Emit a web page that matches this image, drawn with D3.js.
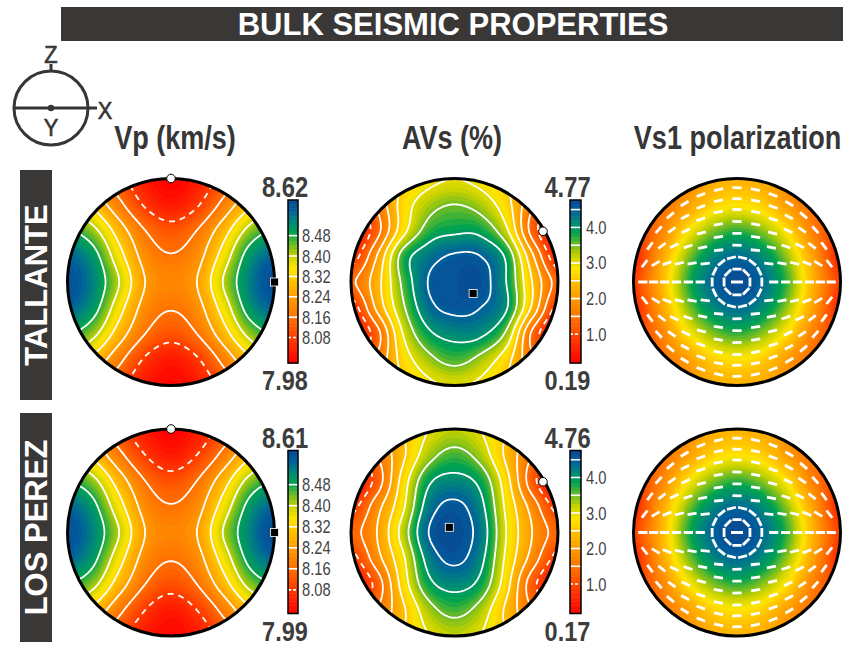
<!DOCTYPE html>
<html><head><meta charset="utf-8">
<script src="https://cdn.jsdelivr.net/npm/d3@7"></script>
<style>body{margin:0;background:#fff}svg{display:block}</style>
</head><body><svg id="c" width="849" height="647"></svg>
<script>
// ---------------- DATA ----------------
// grid nodes in normalised pole-figure coordinates (x right = X, y up = Z)
const gridAxis = [-1, -0.75, -0.5, -0.25, 0, 0.25, 0.5, 0.75, 1];
// rows: y = +1 (top) ... y = -1 (bottom); columns: x = -1 ... +1
const vpTallante = [
  [8.30, 8.21, 8.11, 8.02, 7.98, 8.02, 8.11, 8.21, 8.30],
  [8.39, 8.30, 8.18, 8.07, 8.02, 8.07, 8.18, 8.30, 8.39],
  [8.49, 8.42, 8.28, 8.16, 8.11, 8.16, 8.28, 8.42, 8.49],
  [8.58, 8.51, 8.35, 8.21, 8.165, 8.21, 8.35, 8.51, 8.58],
  [8.61, 8.54, 8.40, 8.24, 8.20, 8.24, 8.40, 8.54, 8.62],
  [8.58, 8.51, 8.35, 8.21, 8.165, 8.21, 8.35, 8.51, 8.58],
  [8.49, 8.42, 8.28, 8.16, 8.11, 8.16, 8.28, 8.42, 8.49],
  [8.39, 8.30, 8.18, 8.07, 8.02, 8.07, 8.18, 8.30, 8.39],
  [8.30, 8.21, 8.11, 8.02, 7.99, 8.02, 8.11, 8.21, 8.30]
];
const vpLosPerez = [
  [8.30, 8.21, 8.11, 8.03, 7.99, 8.03, 8.11, 8.21, 8.30],
  [8.39, 8.30, 8.18, 8.08, 8.03, 8.08, 8.18, 8.30, 8.39],
  [8.48, 8.42, 8.28, 8.16, 8.11, 8.16, 8.28, 8.42, 8.48],
  [8.57, 8.50, 8.35, 8.21, 8.165, 8.21, 8.35, 8.50, 8.57],
  [8.60, 8.53, 8.40, 8.24, 8.20, 8.24, 8.40, 8.53, 8.61],
  [8.57, 8.50, 8.35, 8.21, 8.165, 8.21, 8.35, 8.50, 8.57],
  [8.48, 8.42, 8.28, 8.16, 8.11, 8.16, 8.28, 8.42, 8.48],
  [8.39, 8.30, 8.18, 8.08, 8.03, 8.08, 8.18, 8.30, 8.39],
  [8.30, 8.21, 8.11, 8.03, 8.00, 8.03, 8.11, 8.21, 8.30]
];
const avsTallante = [
  [1.2, 2.0, 2.5, 2.85, 3.0, 2.85, 2.5, 2.0, 1.2],
  [1.0, 1.6, 2.7, 3.3, 3.5, 3.3, 2.7, 1.6, 1.0],
  [0.3, 1.3, 2.8, 3.7, 3.9, 3.85, 3.1, 1.3, 0.3],
  [0.7, 2.0, 3.7, 4.3, 4.55, 4.5, 3.9, 2.1, 0.6],
  [1.4, 2.3, 3.6, 4.52, 4.65, 4.68, 4.0, 2.5, 1.3],
  [0.7, 2.1, 3.4, 4.35, 4.6, 4.5, 4.05, 2.4, 0.8],
  [0.3, 1.3, 3.0, 3.9, 4.15, 4.1, 3.4, 1.4, 0.3],
  [1.0, 1.6, 2.7, 3.35, 3.65, 3.35, 2.7, 1.6, 1.0],
  [1.2, 2.0, 2.5, 2.9, 3.05, 2.9, 2.5, 2.0, 1.2]
];
const avsLosPerez = [
  [1.2, 1.8, 2.5, 3.0, 3.2, 3.0, 2.5, 1.8, 1.2],
  [0.9, 1.5, 2.4, 3.3, 3.65, 3.3, 2.4, 1.5, 0.9],
  [0.3, 1.2, 2.7, 3.9, 4.15, 3.85, 2.7, 1.2, 0.3],
  [0.8, 1.8, 2.9, 4.25, 4.6, 4.15, 2.9, 1.8, 0.8],
  [1.3, 2.0, 3.2, 4.5, 4.72, 4.3, 3.0, 2.0, 1.3],
  [0.8, 1.8, 2.9, 4.2, 4.6, 4.15, 2.9, 1.8, 0.8],
  [0.3, 1.2, 2.7, 3.85, 4.15, 3.85, 2.7, 1.2, 0.3],
  [0.9, 1.5, 2.4, 3.3, 3.65, 3.3, 2.4, 1.5, 0.9],
  [1.2, 1.8, 2.5, 3.0, 3.2, 3.0, 2.5, 1.8, 1.2]
];
const vs1Tallante = [
  [1.1, 1.4, 1.8, 2.2, 2.3, 2.2, 1.8, 1.4, 1.1],
  [0.9, 1.4, 2.0, 2.6, 2.8, 2.6, 2.0, 1.4, 0.9],
  [0.8, 1.6, 2.7, 3.4, 3.7, 3.4, 2.7, 1.6, 0.8],
  [0.6, 2.0, 3.3, 4.1, 4.4, 4.1, 3.3, 2.0, 0.6],
  [0.9, 2.2, 3.6, 4.4, 4.75, 4.4, 3.6, 2.2, 0.9],
  [0.6, 2.0, 3.3, 4.1, 4.4, 4.1, 3.3, 2.0, 0.6],
  [0.8, 1.6, 2.7, 3.4, 3.7, 3.4, 2.7, 1.6, 0.8],
  [0.9, 1.4, 2.0, 2.6, 2.8, 2.6, 2.0, 1.4, 0.9],
  [1.1, 1.4, 1.8, 2.2, 2.3, 2.2, 1.8, 1.4, 1.1]
];
const vs1LosPerez = [
  [1.1, 1.4, 1.8, 2.2, 2.3, 2.2, 1.8, 1.4, 1.1],
  [0.9, 1.4, 2.0, 2.6, 2.8, 2.6, 2.0, 1.4, 0.9],
  [0.8, 1.6, 2.7, 3.4, 3.7, 3.4, 2.7, 1.6, 0.8],
  [0.6, 2.0, 3.3, 4.1, 4.4, 4.1, 3.3, 2.0, 0.6],
  [0.9, 2.2, 3.6, 4.4, 4.74, 4.4, 3.6, 2.2, 0.9],
  [0.6, 2.0, 3.3, 4.1, 4.4, 4.1, 3.3, 2.0, 0.6],
  [0.8, 1.6, 2.7, 3.4, 3.7, 3.4, 2.7, 1.6, 0.8],
  [0.9, 1.4, 2.0, 2.6, 2.8, 2.6, 2.0, 1.4, 0.9],
  [1.1, 1.4, 1.8, 2.2, 2.3, 2.2, 1.8, 1.4, 1.1]
];
const vpRangeTallante = [7.98, 8.62];
const vpRangeLosPerez = [7.99, 8.61];
const avsRangeTallante = [0.19, 4.77];
const avsRangeLosPerez = [0.17, 4.76];
const vpLevels = [8.08, 8.16, 8.24, 8.32, 8.40, 8.48];
const vpTickLabels = ["8.48", "8.40", "8.32", "8.24", "8.16", "8.08"];
const avsLevels = [1.0, 1.5, 2.0, 2.5, 3.0, 3.5, 4.0, 4.5];
const avsTickLabels = ["4.0", "3.0", "2.0", "1.0"];
// extreme directions (normalised coords): [max, min]
const vpExtTallante = [[1, 0], [0, 1]];
const vpExtLosPerez = [[1, 0], [0, 1]];
const avsExtTallante = [[0.18, -0.11], [0.855, 0.49]];
const avsExtLosPerez = [[-0.05, 0.05], [0.855, 0.49]];
// Vs1 polarisation: ticks on rings (normalised radius); outer ticks follow great circles through X
const polRingRadii = [0.125, 0.24, 0.355, 0.47, 0.585, 0.70, 0.805, 0.91];
const polSwirlRings = 2;         // innermost rings whose ticks circle the AVs maximum
const polPole = [90, 0];         // X direction (lon, lat) where trajectories converge
const rowNames = ["TALLANTE", "LOS PEREZ"];
const columnTitles = ["Vp (km/s)", "AVs (%)", "Vs1 polarization"];
const chartTitle = "BULK SEISMIC PROPERTIES";

// ---------------- STYLE / LAYOUT ----------------
const FONT = "'Liberation Sans', Arial, Helvetica, sans-serif";
const INK = "#363636";
const BAR = "#3a3737";
const R = 103.5;
const colX = [171, 454.5, 737];
const rowY = [282, 532.5];
const stopsT = [0, 0.12, 0.25, 0.38, 0.5, 0.58, 0.66, 0.74, 0.8, 0.87, 0.94, 1];
const stopsC = ["#ff0000", "#ff2e00", "#ff6600", "#ff9400", "#ffc000", "#ffe600", "#c6d200", "#5fb92c", "#00a450", "#00887c", "#005f9c", "#0a4a94"];
function makeColor(lo, hi) {
  return d3.scaleLinear().domain(stopsT.map(t => lo + t * (hi - lo))).range(stopsC)
    .interpolate(d3.interpolateRgb).clamp(true);
}

const svg = d3.select("#c");
const defs = svg.append("defs");

function txt(g, x, y, s, size, o = {}) {
  return g.append("text")
    .attr("transform", `translate(${x},${y})${o.rot ? " rotate(" + o.rot + ")" : ""} scale(${o.sx || 1},1)`)
    .attr("text-anchor", o.anchor || "middle")
    .attr("font-family", FONT).attr("font-size", size)
    .attr("font-weight", o.weight || "normal")
    .attr("fill", o.fill || INK).text(s);
}

// ---------- field rendering ----------
const N = 161, E = 1.03;
function cr(p0, p1, p2, p3, t) {
  return 0.5 * (2 * p1 + (-p0 + p2) * t + (2 * p0 - 5 * p1 + 4 * p2 - p3) * t * t + (-p0 + 3 * p1 - 3 * p2 + p3) * t * t * t);
}
function sample(grid, x, y) {
  const n = gridAxis.length, step = gridAxis[1] - gridAxis[0];
  let fx = (x - gridAxis[0]) / step, fy = (gridAxis[n - 1] - y) / step;
  fx = Math.max(0, Math.min(n - 1, fx)); fy = Math.max(0, Math.min(n - 1, fy));
  const ix = Math.min(n - 2, Math.floor(fx)), iy = Math.min(n - 2, Math.floor(fy));
  const tx = fx - ix, ty = fy - iy;
  const g = (r, c) => grid[Math.max(0, Math.min(n - 1, r))][Math.max(0, Math.min(n - 1, c))];
  const rows = [];
  for (let k = -1; k <= 2; k++) rows.push(cr(g(iy + k, ix - 1), g(iy + k, ix), g(iy + k, ix + 1), g(iy + k, ix + 2), tx));
  return cr(rows[0], rows[1], rows[2], rows[3], ty);
}
function fieldValues(grid) {
  const v = new Float64Array(N * N), s = 2 * E / (N - 1);
  for (let j = 0; j < N; j++) for (let i = 0; i < N; i++) v[j * N + i] = sample(grid, -E + i * s, E - j * s);
  return v;
}
function gridPath(cx, cy) {
  const s = 2 * E / (N - 1);
  const sx = d3.scaleLinear().domain([-1, 1]).range([cx - R, cx + R]);
  const sy = d3.scaleLinear().domain([-1, 1]).range([cy + R, cy - R]);
  return d3.geoPath(d3.geoTransform({
    point(x, y) { this.stream.point(sx(-E + (x - 0.5) * s), sy(E - (y - 0.5) * s)); }
  }));
}
let clipId = 0;
function panelGroup(cx, cy) {
  const id = "clip" + (clipId++);
  defs.append("clipPath").attr("id", id).append("circle").attr("cx", cx).attr("cy", cy).attr("r", R);
  return svg.append("g").attr("clip-path", `url(#${id})`);
}
function drawField(cx, cy, grid, range, levels, dashedLevel) {
  const g = panelGroup(cx, cy);
  const vals = fieldValues(grid);
  const color = makeColor(range[0], range[1]);
  const K = 48, lo = range[0], hi = range[1];
  const th = d3.range(K).map(k => lo + (hi - lo) * k / K);
  th[0] = lo - 10;
  const path = gridPath(cx, cy);
  d3.contours().size([N, N]).thresholds(th)(vals).forEach((c, k) => {
    const col = color(lo + (hi - lo) * (k + 0.5) / K);
    g.append("path").attr("d", path(c)).attr("fill", col).attr("stroke", col).attr("stroke-width", 0.4);
  });
  if (levels) {
    d3.contours().size([N, N]).thresholds(levels)(vals).forEach(c => {
      g.append("path").attr("d", path(c)).attr("fill", "none").attr("stroke", "#fff")
        .attr("stroke-width", 1.8)
        .attr("stroke-dasharray", Math.abs(c.value - dashedLevel) < 1e-6 ? "6,5" : null);
    });
  }
  return g;
}
function border(cx, cy) {
  svg.append("circle").attr("cx", cx).attr("cy", cy).attr("r", R)
    .attr("fill", "none").attr("stroke", "#000").attr("stroke-width", 3);
}
function markers(cx, cy, ext) {
  const sx = d3.scaleLinear().domain([-1, 1]).range([cx - R, cx + R]);
  const sy = d3.scaleLinear().domain([-1, 1]).range([cy + R, cy - R]);
  const [mx, mn] = ext;
  svg.append("rect").attr("x", sx(mx[0]) - 4).attr("y", sy(mx[1]) - 4).attr("width", 8).attr("height", 8)
    .attr("fill", "#000").attr("stroke", "#fff").attr("stroke-width", 0.8);
  svg.append("circle").attr("cx", sx(mn[0])).attr("cy", sy(mn[1])).attr("r", 4.3)
    .attr("fill", "#fff").attr("stroke", "#000").attr("stroke-width", 1);
}
function colorbar(x, w, cy, range, levels, dashedLevel, tickLabels, labelX) {
  const top = cy - 82, bot = cy + 81;
  const ys = d3.scaleLinear().domain(range).range([bot, top]);
  const color = makeColor(range[0], range[1]);
  const K = 40;
  d3.range(K).forEach(k => {
    const a = range[0] + (range[1] - range[0]) * k / K, b = range[0] + (range[1] - range[0]) * (k + 1) / K;
    svg.append("rect").attr("x", x).attr("y", ys(b)).attr("width", w).attr("height", ys(a) - ys(b) + 0.5)
      .attr("fill", color((a + b) / 2));
  });
  levels.forEach(l => {
    svg.append("line").attr("x1", x).attr("x2", x + w).attr("y1", ys(l)).attr("y2", ys(l))
      .attr("stroke", "#fff").attr("stroke-width", 1.6)
      .attr("stroke-dasharray", Math.abs(l - dashedLevel) < 1e-6 ? "3,2" : null);
  });
  svg.append("rect").attr("x", x).attr("y", top).attr("width", w).attr("height", bot - top)
    .attr("fill", "none").attr("stroke", "#000").attr("stroke-width", 1.5);
  tickLabels.forEach(t => txt(svg, labelX, ys(+t) + 6.5, t, 18, { anchor: "start", sx: 0.82, fill: "#444" }));
  const cxl = x + w / 2 - 8;
  txt(svg, cxl, top - 3, range[1].toFixed(2), 29, { weight: "bold", sx: 0.82, fill: "#3d3d3d" });
  txt(svg, cxl, bot + 27, range[0].toFixed(2), 28, { weight: "bold", sx: 0.84, fill: "#3d3d3d" });
}
function polarisation(g, cx, cy) {
  const proj = d3.geoAzimuthalEqualArea().scale(R / Math.SQRT2).translate([cx, cy]).clipAngle(90);
  const spacing = 19, half = 4.6;
  polRingRadii.forEach((rho, ri) => {
    const swirl = ri < polSwirlRings;
    const n = 2 * Math.max(2, Math.round(Math.PI * rho * R / (swirl ? 10.5 : spacing)));
    d3.range(n).forEach(k => {
      const phi = 2 * Math.PI * k / n;
      const p = [cx + rho * R * Math.cos(phi), cy - rho * R * Math.sin(phi)];
      let dx, dy;
      if (swirl) { dx = -Math.sin(phi); dy = -Math.cos(phi); }
      else {
        const geo = proj.invert(p);
        const pole = geo[0] < 0 ? [-polPole[0], polPole[1]] : polPole;
        const q = proj(d3.geoInterpolate(geo, pole)(0.04));
        dx = q[0] - p[0]; dy = q[1] - p[1];
        const l = Math.hypot(dx, dy); dx /= l; dy /= l;
      }
      g.append("line").attr("x1", p[0] - half * dx).attr("y1", p[1] - half * dy)
        .attr("x2", p[0] + half * dx).attr("y2", p[1] + half * dy)
        .attr("stroke", "#fff").attr("stroke-width", 2.8);
    });
  });
  g.append("line").attr("x1", cx - 6).attr("x2", cx + 6).attr("y1", cy).attr("y2", cy)
    .attr("stroke", "#fff").attr("stroke-width", 2.8);
}

// ---------------- DRAW ----------------
// title bar
svg.append("rect").attr("x", 61).attr("y", 7).attr("width", 782).attr("height", 34).attr("fill", BAR);
txt(svg, 453, 34.5, chartTitle, 31, { weight: "bold", fill: "#fff", sx: 1.0 });

// orientation icon
const ic = svg.append("g").attr("stroke", INK).attr("fill", "none");
ic.append("circle").attr("cx", 51).attr("cy", 108).attr("r", 37).attr("stroke-width", 3);
ic.append("line").attr("x1", 14).attr("x2", 97).attr("y1", 108).attr("y2", 108).attr("stroke-width", 3);
ic.append("line").attr("x1", 51).attr("x2", 51).attr("y1", 71).attr("y2", 64).attr("stroke-width", 3);
svg.append("circle").attr("cx", 51).attr("cy", 108).attr("r", 3.2).attr("fill", INK);
txt(svg, 51, 63, "Z", 23, { sx: 0.95 }).attr("stroke", INK).attr("stroke-width", 0.6);
txt(svg, 105, 118.5, "X", 23, { sx: 0.95 }).attr("stroke", INK).attr("stroke-width", 0.6);
txt(svg, 51, 136, "Y", 23, { sx: 0.95 }).attr("stroke", INK).attr("stroke-width", 0.6);

// column titles
columnTitles.forEach((t, i) => txt(svg, [175, 452, 737.5][i], 148.5, t, 33, { weight: "bold", sx: 0.82 }));

// row labels
rowNames.forEach((t, i) => {
  const y0 = [170, 413][i], h = [230, 229][i];
  svg.append("rect").attr("x", 20).attr("y", y0).attr("width", 32).attr("height", h).attr("fill", BAR);
  txt(svg, 47, y0 + h / 2, t, 31, { weight: "bold", fill: "#fff", rot: -90 });
});

const rows = [
  { vp: vpTallante, vpR: vpRangeTallante, vpE: vpExtTallante, avs: avsTallante, avsR: avsRangeTallante, avsE: avsExtTallante, vs1: vs1Tallante },
  { vp: vpLosPerez, vpR: vpRangeLosPerez, vpE: vpExtLosPerez, avs: avsLosPerez, avsR: avsRangeLosPerez, avsE: avsExtLosPerez, vs1: vs1LosPerez }
];
rows.forEach((d, i) => {
  const cy = rowY[i];
  drawField(colX[0], cy, d.vp, d.vpR, vpLevels, 8.08);
  border(colX[0], cy); markers(colX[0], cy, d.vpE);
  colorbar(288, 10, cy, d.vpR, vpLevels, 8.08, vpTickLabels, 302);
  drawField(colX[1], cy, d.avs, d.avsR, avsLevels, 1.0);
  border(colX[1], cy); markers(colX[1], cy, d.avsE);
  colorbar(570, 11, cy, d.avsR, avsLevels, 1.0, avsTickLabels, 586);
  const g = drawField(colX[2], cy, d.vs1, d.avsR, null, null);
  polarisation(g, colX[2], cy);
  border(colX[2], cy);
});
</script></body></html>
